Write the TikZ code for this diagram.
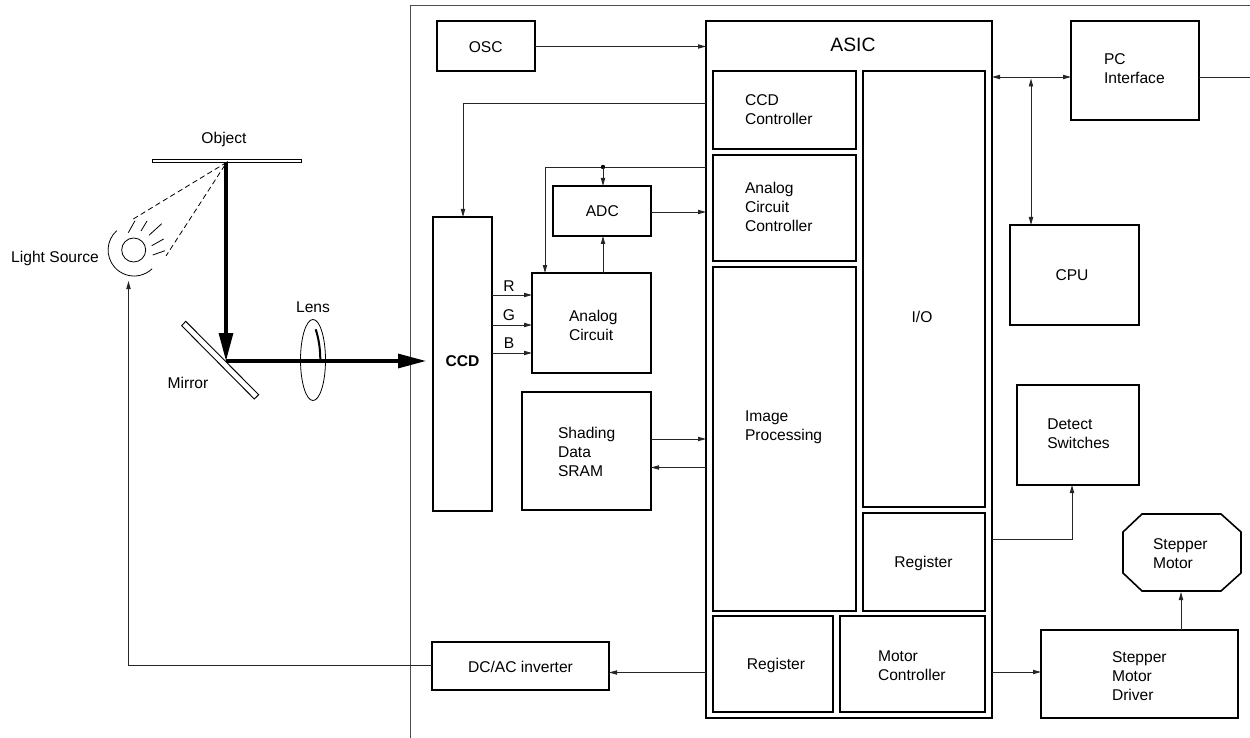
\documentclass[tikz,border=0pt]{standalone}
\usepackage{fontspec}
\setmainfont{Liberation Sans}
\usetikzlibrary{arrows.meta,calc}
\newcommand{\bx}[6][]{\node[boxstyle,#1,minimum width={(#5-#3)*0.75pt},minimum height={(#6-#4)*0.75pt}] (#2) at ({(#3+#5)/2},{(#4+#6)/2}) {};}
\begin{document}
\begin{tikzpicture}[x=0.75pt,y=-0.75pt,
  boxstyle/.style={draw=black,line width=1.2pt,inner sep=0pt,outer sep=0pt,rectangle},
  txt/.style={inner sep=0pt,outer sep=0pt,align=left,font=\fontsize{11.7}{14.25}\selectfont},
  ltxt/.style={txt,anchor=west},
  conn/.style={line width=0.7pt,draw=black!85},
  tip/.style={-{Triangle[length=6pt,width=3.2pt]}},
  bitip/.style={{Triangle[length=6pt,width=3.2pt]}-{Triangle[length=6pt,width=3.2pt]}},
  beam/.style={line width=2.3pt,-{Triangle[length=21pt,width=10.5pt]}}]
\useasboundingbox (0,0) rectangle (1250,738);
% outer frame
\coordinate (fa) at (410,738); \coordinate (fb) at (410,5); \coordinate (fc) at (1250,5);
\draw[line width=0.7pt,black!70] (fa) -- (fb) -- (fc);
% ASIC
\bx[line width=1.5pt]{asic}{706}{21}{992}{718}
\node[txt,font=\fontsize{14.5}{16}\selectfont] (asict) at (853,44.5) {ASIC};
\bx{ccdc}{713}{71}{856}{149}
\node[ltxt] (ccdct) at (745,109.5) {CCD\\Controller};
\bx{acc}{713}{155}{856}{261}
\node[ltxt] (acct) at (745,206.5) {Analog\\Circuit\\Controller};
\bx{imgp}{713}{267}{856}{611}
\node[ltxt] (imgpt) at (745,427.5) {Image\\Processing};
\bx{io}{863}{71}{985}{507}
\node[txt] (iot) at (922,317) {I/O};
\bx{regb}{863}{513}{985}{611}
\node[txt] (regbt) at (923.5,563) {Register};
\bx{regc}{713}{616}{833}{712}
\node[txt] (regct) at (776,665.5) {Register};
\bx{motc}{840}{616}{985}{712}
\node[ltxt] (motct) at (878,666) {Motor\\Controller};
% other boxes
\bx{osc}{437}{21}{535}{71}
\node[txt] (osct) at (485.7,47) {OSC};
\bx{pci}{1071}{21}{1199}{120}
\node[ltxt] (pcit) at (1104,68.5) {PC\\Interface};
\bx{cpu}{1010}{225}{1139}{325}
\node[txt] (cput) at (1072,275) {CPU};
\bx{det}{1017}{385}{1139}{485}
\node[ltxt] (dett) at (1047.3,433.3) {Detect\\Switches};
\bx{drv}{1041}{630}{1238}{718}
\node[ltxt] (drvt) at (1112,676) {Stepper\\Motor\\Driver};
\bx{dcac}{432}{642}{609}{690}
\node[txt] (dcact) at (520.5,667) {DC/AC inverter};
\bx{ccd}{433}{217}{492}{511}
\node[txt,font=\fontsize{11.7}{14}\selectfont\bfseries] (ccdt) at (462.5,361) {CCD};
\bx{adc}{553}{186}{651}{236}
\node[txt] (adct) at (602.3,211.5) {ADC};
\bx{ana}{532}{273}{651}{373}
\node[ltxt] (anat) at (569,325) {Analog\\Circuit};
\bx{sram}{522}{392}{651}{510}
\node[ltxt] (sramt) at (558,452) {Shading\\Data\\SRAM};
% stepper motor octagon
\coordinate (m1) at (1142,514); \coordinate (m2) at (1221,514); \coordinate (m3) at (1241,532); \coordinate (m4) at (1241,573);
\coordinate (m5) at (1221,591); \coordinate (m6) at (1142,591); \coordinate (m7) at (1123,573); \coordinate (m8) at (1123,532);
\coordinate (mb) at (1181,592);
\draw[line width=1.2pt] (m1) -- (m2) -- (m3) -- (m4) -- (m5) -- (m6) -- (m7) -- (m8) -- cycle;
\node[ltxt] (stmt) at (1153,554) {Stepper\\Motor};
% connectors
\draw[conn,tip] (osc.east |- 0,46.5) -- (asic.west |- 0,46.5);
\coordinate (c1) at (463,103); \coordinate (c2) at (545,167); \coordinate (dot) at (603,167);
\draw[conn,tip] (asic.west |- c1) -- (c1) -- (ccd.north -| c1);
\draw[conn,tip] (asic.west |- c2) -- (c2) -- (ana.north -| c2);
\fill (dot) circle[radius=2.2];
\draw[conn,tip] (dot) -- (adc.north -| dot);
\draw[conn,tip] (adc.east |- 0,212) -- (asic.west |- 0,212);
\draw[conn,tip] (ana.north -| dot) -- (adc.south -| dot);
\draw[conn,tip] (ccd.east |- 0,295) -- (ana.west |- 0,295);
\draw[conn,tip] (ccd.east |- 0,325) -- (ana.west |- 0,325);
\draw[conn,tip] (ccd.east |- 0,353) -- (ana.west |- 0,353);
\node[txt] (lr) at (509,286) {R};
\node[txt] (lg) at (509,315) {G};
\node[txt] (lb) at (509,343) {B};
\draw[conn,tip] (sram.east |- 0,439) -- (asic.west |- 0,439);
\draw[conn,tip] (asic.west |- 0,467.5) -- (sram.east |- 0,467.5);
\draw[conn,tip] (asic.west |- 0,672.5) -- (dcac.east |- 0,672.5);
\coordinate (c3) at (128.5,665); \coordinate (ls) at (128.5,281);
\draw[conn,tip] (dcac.west |- c3) -- (c3) -- (ls);
\draw[conn,bitip] (asic.east |- 0,77) -- (pci.west |- 0,77);
\coordinate (bj) at (1031,78.5);
\draw[conn,bitip] (bj) -- (cpu.north -| bj);
\coordinate (pe) at (1250,77);
\draw[conn] (pci.east |- pe) -- (pe);
\coordinate (c4) at (1072,539);
\draw[conn,tip] (asic.east |- c4) -- (c4) -- (det.south -| c4);
\draw[conn,tip] (asic.east |- 0,672) -- (drv.west |- 0,672);
\draw[conn,tip] (drv.north -| mb) -- (mb);
% optics
\coordinate (o1) at (152,159.3); \coordinate (o2) at (301,162.3);
\draw[line width=0.7pt] (o1) rectangle (o2);
\node[txt] (objt) at (224,139) {Object};
\coordinate (oc) at (226,162.3); \coordinate (mc) at (226,361); \coordinate (cin) at (426,361);
\draw[beam] (oc) -- (mc);
\draw[beam] (mc) -- (cin);
\draw[line width=0.7pt] (181.7,325.7) -- (185.7,321.3) -- (258.7,394.7) -- (254.3,399) -- cycle;
\node[txt] (mirt) at (188,383) {Mirror};
\draw[line width=0.6pt] (313,360) ellipse[x radius=12.5,y radius=40.5];
\draw[line width=1.5pt] (315.7,329.3) .. controls (318.5,338) and (320.3,348) .. (320.3,360);
\node[txt] (lenst) at (313,307) {Lens};
\node[txt] (lst) at (55,258) {Light Source};
\draw[line width=0.6pt] (133.7,250) circle[radius=12];
\coordinate (rs) at (116.7,230.7);
\draw[line width=0.6pt] (rs) arc[start angle=228,end angle=46,radius=26];
\draw[line width=0.6pt] (128.3,232.7) -- (135,220.7);
\draw[line width=0.6pt] (141,231) -- (147,221);
\draw[line width=0.6pt] (149,235.3) -- (161.7,223.7);
\draw[line width=0.6pt] (151.7,245.7) -- (163.7,239);
\draw[line width=0.6pt] (152.7,255) -- (165,250.7);
\draw[line width=0.6pt,dash pattern=on 4pt off 2.5pt] (133.3,219) -- (226.7,162.3) -- (166,256);
\end{tikzpicture}
\end{document}
